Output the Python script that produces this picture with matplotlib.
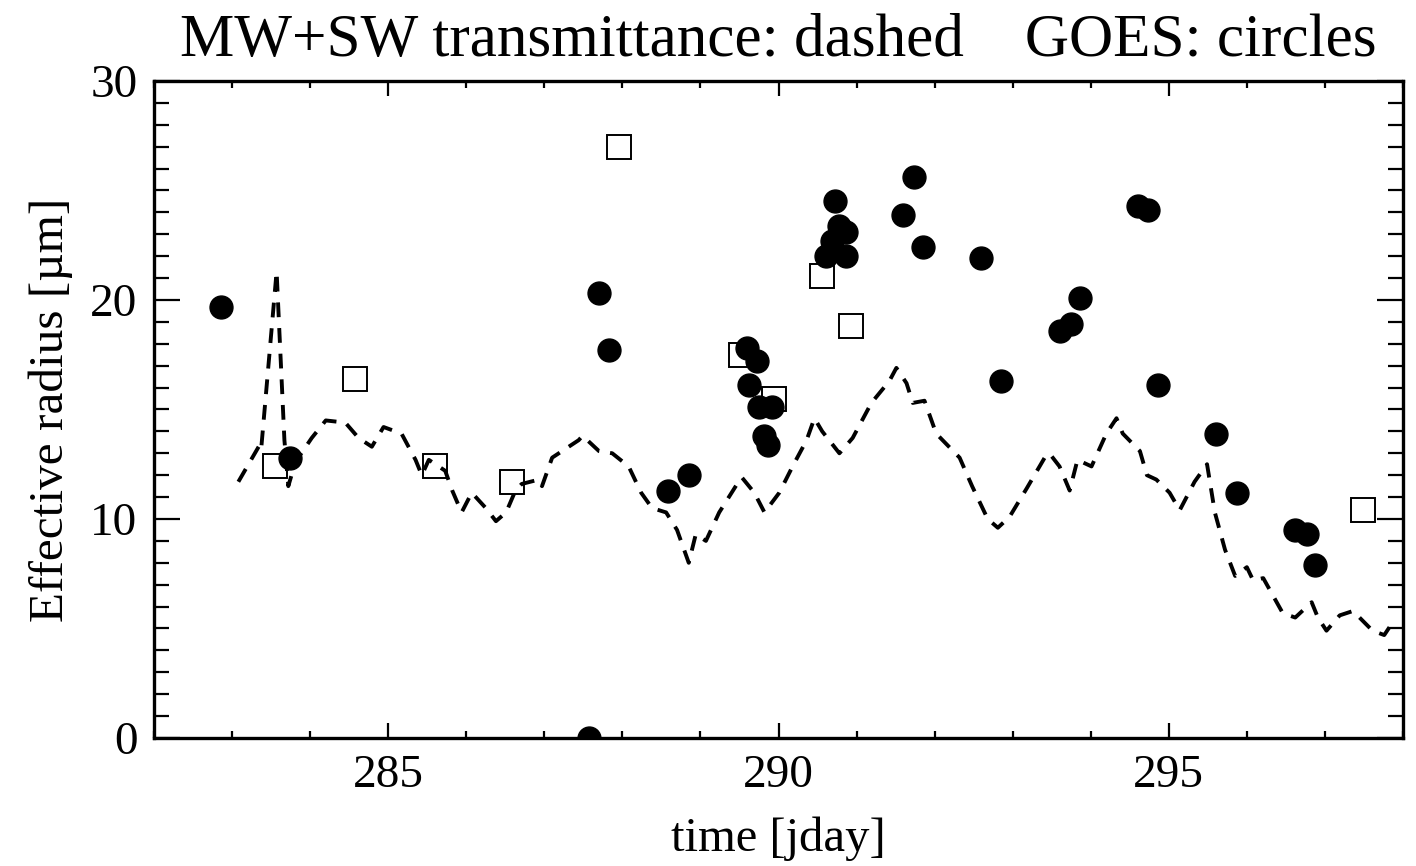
import numpy as np
import matplotlib
matplotlib.use("Agg")
import matplotlib.pyplot as plt
from matplotlib.ticker import MultipleLocator

# GOES retrievals (filled circles)
goes_day = [282.86, 283.74, 287.57, 287.70, 287.83, 288.58, 288.85,
            289.60, 289.73, 289.62, 289.75, 289.92, 289.82, 289.86,
            290.73, 290.78, 290.86, 290.69, 290.61, 290.87,
            291.73, 291.60, 291.85, 292.60, 292.85,
            293.86, 293.60, 293.75, 294.60, 294.73, 294.86,
            295.61, 295.87, 296.62, 296.77, 296.87]
goes_re = [19.7, 12.8, 0.0, 20.3, 17.7, 11.3, 12.0,
           17.8, 17.2, 16.1, 15.1, 15.1, 13.8, 13.4,
           24.5, 23.4, 23.1, 22.7, 22.0, 22.0,
           25.6, 23.9, 22.4, 21.9, 16.3,
           20.1, 18.6, 18.9, 24.3, 24.1, 16.1,
           13.9, 11.2, 9.5, 9.3, 7.9]

# open squares
sq_day = [283.55, 284.58, 285.60, 286.58, 287.96, 289.52, 289.94,
          290.56, 290.93, 297.49]
sq_re = [12.4, 16.4, 12.4, 11.7, 27.0, 17.5, 15.5, 21.1, 18.8, 10.4]

# MW+SW transmittance retrieval (dashed)
tr_day = [283.08, 283.34, 283.37, 283.57, 283.67, 283.72, 283.81, 284.02,
          284.20, 284.45, 284.62, 284.79, 284.94, 285.17, 285.35, 285.43,
          285.52, 285.73, 285.82, 285.94, 286.07, 286.25, 286.38, 286.51,
          286.63, 286.71, 286.93, 286.97, 287.10, 287.44, 287.49, 287.70,
          287.87, 288.08, 288.24, 288.38, 288.56, 288.70, 288.85, 288.94,
          289.07, 289.24, 289.47, 289.53, 289.69, 289.82, 290.01, 290.18,
          290.36, 290.46, 290.56, 290.78, 290.95, 291.19, 291.42, 291.51,
          291.64, 291.72, 291.87, 292.02, 292.32, 292.48, 292.68, 292.81,
          292.96, 293.18, 293.41, 293.47, 293.60, 293.73, 293.83, 294.01,
          294.20, 294.33, 294.41, 294.63, 294.72, 294.84, 295.01, 295.14,
          295.33, 295.49, 295.59, 295.72, 295.85, 296.00, 296.08, 296.21,
          296.46, 296.62, 296.83, 296.91, 297.02, 297.19, 297.36, 297.61,
          297.76, 297.89]
tr_re = [11.7, 13.3, 13.1, 21.3, 13.6, 11.5, 12.6, 13.7,
         14.5, 14.4, 13.7, 13.3, 14.2, 13.9, 12.7, 12.0,
         12.7, 12.2, 11.3, 10.3, 11.2, 10.5, 9.9, 10.3,
         11.3, 11.6, 11.8, 11.5, 12.8, 13.6, 13.8, 13.1,
         13.0, 12.4, 11.2, 10.5, 10.3, 9.5, 8.0, 9.3,
         9.0, 10.3, 11.6, 11.9, 11.2, 10.3, 11.2, 12.4,
         13.6, 14.6, 14.0, 13.0, 13.7, 15.3, 16.3, 16.9,
         16.2, 15.3, 15.4, 13.9, 12.8, 11.5, 10.0, 9.6,
         10.1, 11.4, 12.8, 13.0, 12.4, 11.3, 12.7, 12.4,
         13.9, 14.6, 13.9, 13.1, 12.0, 11.8, 11.2, 10.4,
         11.7, 12.5, 10.3, 8.6, 7.4, 7.8, 7.2, 7.3,
         5.7, 5.5, 6.2, 5.5, 4.9, 5.6, 5.8, 4.9,
         4.7, 5.4]

plt.rcParams['font.family'] = ['Liberation Serif', 'DejaVu Serif']

fig = plt.figure(figsize=(14.16, 8.66), dpi=100)
ax = fig.add_axes([0.1088, 0.1478, 0.8820, 0.7587])

ax.plot(tr_day, tr_re, color='black', lw=2.8, dashes=(3.8, 2.8), zorder=2)
ax.plot(sq_day, sq_re, ls='none', marker='s', ms=17, mfc='none',
        mec='black', mew=1.4, zorder=3)
ax.plot(goes_day, goes_re, ls='none', marker='o', ms=16.5, color='black',
        zorder=4)

ax.set_xlim(282, 298)
ax.set_ylim(0, 30)
ax.xaxis.set_major_locator(MultipleLocator(5))
ax.xaxis.set_minor_locator(MultipleLocator(1))
ax.yaxis.set_major_locator(MultipleLocator(10))
ax.yaxis.set_minor_locator(MultipleLocator(1))

ax.tick_params(axis='both', which='both', direction='in', top=True,
               right=True, width=1.6, labelsize=34, pad=12)
ax.tick_params(axis='x', which='major', length=11)
ax.tick_params(axis='x', which='minor', length=5)
ax.tick_params(axis='y', which='major', length=19)
ax.tick_params(axis='y', which='minor', length=10.5)
for s in ax.spines.values():
    s.set_linewidth(2.4)

ax.set_xlabel('time [jday]', fontsize=35, labelpad=14)
ax.set_ylabel('Effective radius [µm]', fontsize=35.5, labelpad=12)
ax.set_title('MW+SW transmittance: dashed    GOES: circles', fontsize=44,
             pad=18)

fig.savefig('out.png', dpi=100, facecolor='white')
